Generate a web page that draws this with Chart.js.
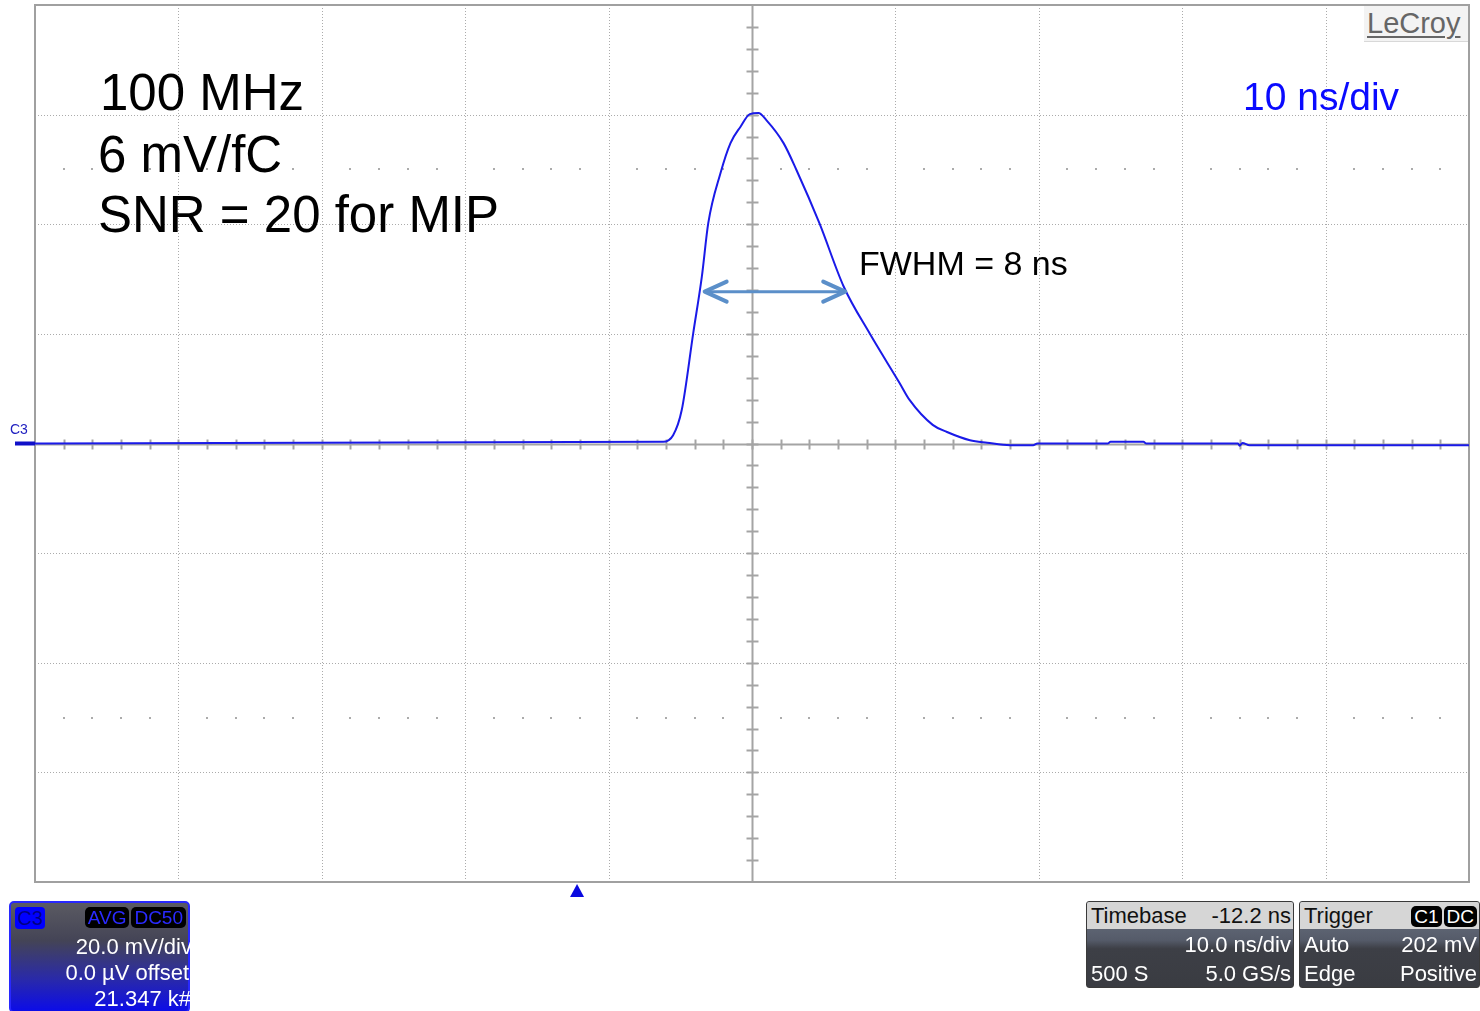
<!DOCTYPE html>
<html>
<head>
<meta charset="utf-8">
<title>Scope trace</title>
<script src="https://cdn.jsdelivr.net/npm/chart.js@4.4.0/dist/chart.umd.min.js"></script>
<style>
  body { margin: 0; background: #fff; }
  #wrap { position: relative; width: 1480px; height: 1011px; overflow: hidden;
          font-family: "Liberation Sans", Arial, sans-serif; }
  #scope { position: absolute; left: 0; top: 0; }
  .note { position: absolute; white-space: nowrap; line-height: 1; color: #000; }
  .big { font-size: 51px; }
  .panel { position: absolute; box-sizing: border-box; font-size: 22px; line-height: 1; white-space: nowrap; }
  .row { position: absolute; left: 0; right: 0; display: flex; justify-content: space-between; align-items: center; padding: 0 2px 0 4px; }
  .badge { display: inline-block; background: #000; border-radius: 5px; padding: 1px 3px; margin-left: 2px; font-size: 19px; }
</style>
</head>
<body>
<div id="wrap">
  <canvas id="scope" width="1480" height="1011"></canvas>

  <div class="note big" style="left:100px; top:67px;">100 MHz</div>
  <div class="note big" style="left:98px; top:129px;">6 mV/fC</div>
  <div class="note big" style="left:98px; top:189px;">SNR = 20 for MIP</div>
  <div class="note" style="left:1243px; top:77px; font-size:39px; color:#0a0aff;">10 ns/div</div>
  <div class="note" style="left:859px; top:246px; font-size:34px;">FWHM = 8 ns</div>

  <div style="position:absolute; left:1364px; top:6px; width:104px; height:35px; background:#f3f3f3; border-bottom:1px solid #d8d8d8;"></div>
  <div class="note" style="left:1367px; top:9px; font-size:29px; color:#666; text-decoration:underline; text-underline-offset:3px; text-decoration-thickness:2px;">LeCroy</div>

  <div class="note" style="left:10px; top:422px; font-size:14px; color:#2020c0;">C3</div>

  <!-- channel panel -->
  <div class="panel" style="left:9px; top:901px; width:181px; height:112px; border:2px solid #2828ff; border-radius:5px;
       background:linear-gradient(to bottom, #5a5a62 0%, #444456 35%, #2a2aa8 70%, #0c0ce8 100%);">
    <div style="position:absolute; left:4px; top:4px; background:#0000ff; color:#000080; border-radius:4px; padding:1px 2px; font-size:20px;">C3</div>
    <div style="position:absolute; right:2px; top:4px; font-size:19px; color:#2a2aff;"><span class="badge">AVG</span><span class="badge">DC50</span></div>
  </div>
  <div class="note" style="right:1288px; top:936px; font-size:22px; color:#fff;">20.0 mV/div</div>
  <div class="note" style="right:1291px; top:962px; font-size:22px; color:#fff;">0.0 µV offset</div>
  <div class="note" style="right:1289px; top:988px; font-size:22px; color:#fff;">21.347 k#</div>

  <!-- timebase panel -->
  <div class="panel" style="left:1086px; top:901px; width:208px; height:87px; border:1px solid #3a3a3a; border-radius:3px; overflow:hidden;
       background:linear-gradient(to bottom, #6e7686 0%, #555b69 45%, #3d3f46 55%, #3a3c42 100%);">
    <div class="row" style="top:0; height:27px; background:#d6d6d6; color:#111;"><span>Timebase</span><span>-12.2 ns</span></div>
    <div class="row" style="top:28px; height:29px; color:#fff;"><span></span><span>10.0 ns/div</span></div>
    <div class="row" style="top:57px; height:29px; color:#fff;"><span>500 S</span><span>5.0 GS/s</span></div>
  </div>

  <!-- trigger panel -->
  <div class="panel" style="left:1299px; top:901px; width:181px; height:87px; border:1px solid #3a3a3a; border-radius:3px; overflow:hidden;
       background:linear-gradient(to bottom, #6e7686 0%, #555b69 45%, #3d3f46 55%, #3a3c42 100%);">
    <div class="row" style="top:0; height:27px; background:#d6d6d6; color:#111;"><span>Trigger</span><span style="color:#fff;"><span class="badge">C1</span><span class="badge">DC</span></span></div>
    <div class="row" style="top:28px; height:29px; color:#fff;"><span>Auto</span><span>202 mV</span></div>
    <div class="row" style="top:57px; height:29px; color:#fff;"><span>Edge</span><span>Positive</span></div>
  </div>
</div>

<script>
// trace: time in ns (10 ns/div), signal in mV (20 mV/div)
var timeNs = [-50, -6.2, -5.5, -4.9, -4.1, -3.5, -3.05, -2.2, -1.5, -0.8, -0.15, 0.45, 1.0, 2.2, 3.1,
  4.7, 6.4, 8.2, 10.3, 11.0, 12.6, 13.6, 15.2, 16.4, 18.0, 19.6, 19.9, 24.8, 25.0, 27.3, 27.5,
  33.9, 34.0, 34.2, 34.7, 50];
var signalMv = [0, 0.3, 1.5, 6.1, 20.1, 30.4, 40.2, 49.3, 54.8, 57.8, 60.1, 60.3, 59.0, 54.8, 49.9,
  40.2, 28.6, 20.1, 11.0, 7.9, 3.4, 2.1, 0.6, 0.15, -0.3, -0.3, 0, 0, 0.3, 0.3, 0,
  0, -0.4, 0.1, -0.3, -0.3];

// screen divisions
var xDivs = [-50, -40, -30, -20, -10, 0, 10, 20, 30, 40, 50];
var yDivs = [-80, -60, -40, -20, 0, 20, 40, 60, 80];
var halfDivRows = [-50, 50];
var triggerNs = -12.2;

// FWHM arrow (ns, mV)
var fwhmStart = -3.3;
var fwhmEnd = 6.5;
var fwhmLevel = 27.7;

var traceColor = "#1a1ae8";
var gridColor = "#ababab";

function strokeLine(ctx, x1, y1, x2, y2) {
  ctx.beginPath();
  ctx.moveTo(x1, y1);
  ctx.lineTo(x2, y2);
  ctx.stroke();
}

var scopeGrid = {
  id: "scopeGrid",
  beforeDatasetsDraw: function (chart) {
    var ctx = chart.ctx, a = chart.chartArea, xs = chart.scales.x, ys = chart.scales.y;
    ctx.save();

    // dotted division lines
    ctx.strokeStyle = gridColor;
    ctx.lineWidth = 1;
    ctx.setLineDash([1, 2]);
    xDivs.forEach(function (v) {
      if (v === 0 || v === -50 || v === 50) return;
      var px = Math.round(xs.getPixelForValue(v)) + 0.5;
      strokeLine(ctx, px, a.top, px, a.bottom);
    });
    yDivs.forEach(function (v) {
      if (v === 0 || v === -80 || v === 80) return;
      var py = Math.round(ys.getPixelForValue(v)) + 0.5;
      strokeLine(ctx, a.left, py, a.right, py);
    });
    ctx.setLineDash([]);

    // dots on the half-division rows
    ctx.fillStyle = gridColor;
    halfDivRows.forEach(function (r) {
      var py = Math.round(ys.getPixelForValue(r));
      for (var t = -48; t < 50; t += 2) {
        if (t % 10 === 0) continue;
        ctx.fillRect(Math.round(xs.getPixelForValue(t)) - 1, py - 1, 2, 2);
      }
    });

    // centre axes with minor ticks
    var cx = Math.round(xs.getPixelForValue(0)) + 0.5;
    var cy = Math.round(ys.getPixelForValue(0)) + 0.5;
    ctx.strokeStyle = "#a4a4a4";
    ctx.lineWidth = 2;
    strokeLine(ctx, cx, a.top, cx, a.bottom);
    strokeLine(ctx, a.left, cy, a.right, cy);
    for (var t = -48; t < 50; t += 2) {
      var tx = Math.round(xs.getPixelForValue(t)) + 0.5;
      strokeLine(ctx, tx, cy - 5, tx, cy + 5);
    }
    for (var m = -76; m < 80; m += 4) {
      var my = Math.round(ys.getPixelForValue(m)) + 0.5;
      strokeLine(ctx, cx - 6, my, cx + 6, my);
    }

    // frame
    ctx.strokeStyle = "#a0a0a0";
    ctx.lineWidth = 2;
    ctx.strokeRect(a.left, a.top, a.right - a.left, a.bottom - a.top);
    ctx.restore();
  },
  afterDatasetsDraw: function (chart) {
    var ctx = chart.ctx, a = chart.chartArea, xs = chart.scales.x, ys = chart.scales.y;
    ctx.save();

    // channel ground marker
    var cy = ys.getPixelForValue(0);
    ctx.fillStyle = "#1010c8";
    ctx.fillRect(15, cy - 2, a.left - 15, 4);

    // trigger position marker
    var tx = xs.getPixelForValue(triggerNs);
    ctx.fillStyle = "#0a0ae0";
    ctx.beginPath();
    ctx.moveTo(tx, a.bottom + 2);
    ctx.lineTo(tx + 7, a.bottom + 15);
    ctx.lineTo(tx - 7, a.bottom + 15);
    ctx.closePath();
    ctx.fill();

    // FWHM double arrow
    var x1 = xs.getPixelForValue(fwhmStart), x2 = xs.getPixelForValue(fwhmEnd);
    var ay = ys.getPixelForValue(fwhmLevel);
    ctx.strokeStyle = "#5b8fc9";
    ctx.lineCap = "round";
    ctx.lineJoin = "round";
    ctx.lineWidth = 3;
    strokeLine(ctx, x1 + 3, ay, x2 - 3, ay);
    ctx.lineWidth = 4;
    ctx.beginPath();
    ctx.moveTo(x1 + 22, ay - 10); ctx.lineTo(x1, ay); ctx.lineTo(x1 + 22, ay + 10);
    ctx.moveTo(x2 - 22, ay - 10); ctx.lineTo(x2, ay); ctx.lineTo(x2 - 22, ay + 10);
    ctx.stroke();
    ctx.restore();
  }
};

window.onload = function () {
  var points = timeNs.map(function (t, i) { return { x: t, y: signalMv[i] }; });
  new Chart(document.getElementById("scope"), {
    type: "line",
    data: {
      datasets: [{
        label: "C3",
        data: points,
        borderColor: traceColor,
        borderWidth: 2,
        pointRadius: 0,
        fill: false,
        cubicInterpolationMode: "monotone"
      }]
    },
    options: {
      responsive: false,
      animation: false,
      devicePixelRatio: 1,
      layout: { padding: { left: 35, right: 11, top: 5, bottom: 129 } },
      plugins: { legend: { display: false }, tooltip: { enabled: false } },
      scales: {
        x: { type: "linear", min: -50, max: 50, display: false },
        y: { type: "linear", min: -80, max: 80, display: false }
      }
    },
    plugins: [scopeGrid]
  });
};
</script>
</body>
</html>
